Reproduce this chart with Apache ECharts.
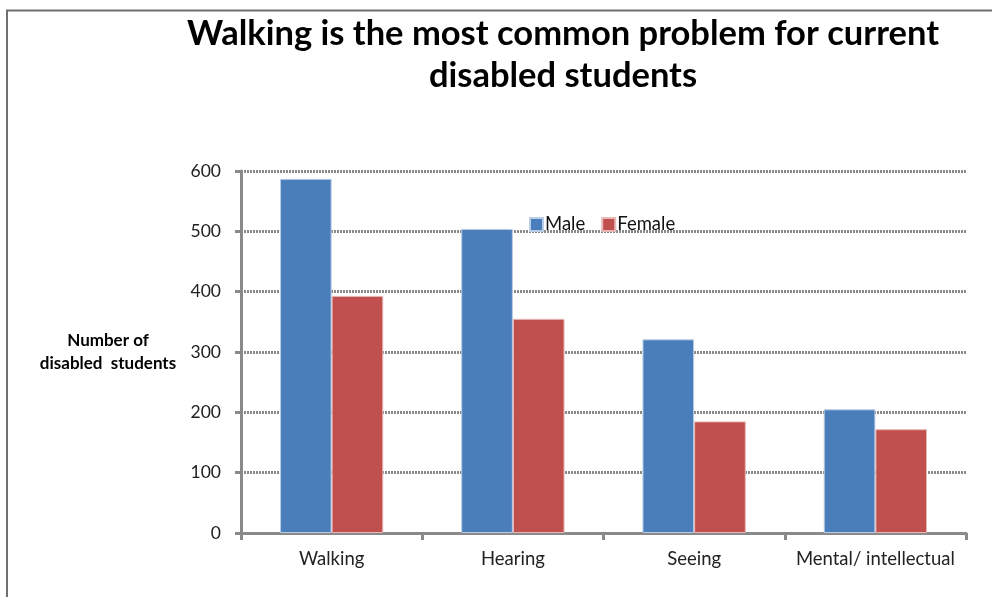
<!DOCTYPE html>
<html><head><meta charset="utf-8">
<script src="https://cdn.jsdelivr.net/npm/echarts@6/dist/echarts.min.js"></script>
<style>html,body{margin:0;padding:0;background:#fff}#c{width:992px;height:597px}</style>
</head><body><div id="c"></div>
<script>
var categories = ['Walking', 'Hearing', 'Seeing', 'Mental/ intellectual'];
var maleValues = [587, 504, 321, 205];
var femaleValues = [393, 355, 185, 172];
var seriesNames = ['Male', 'Female'];
var titleText = 'Walking is the most common problem for current\ndisabled students';
var yAxisName = 'Number of\ndisabled  students';

var chart = echarts.init(document.getElementById('c'));
var font = 'Lato, "Open Sans", sans-serif';
var gridLine = {color: '#8a8a8a', width: 3, type: [2, 1]};
chart.setOption({
  animation: false,
  graphic: [
    {type: 'polyline', shape: {points: [[7, 597], [7, 10.5], [992, 10.5]]}, style: {stroke: '#707070', lineWidth: 2, fill: null}}
  ],
  title: {
    text: titleText, left: 558, top: 8, textAlign: 'center',
    textStyle: {fontFamily: font, fontWeight: 'bold', fontSize: 34.5, color: '#000', lineHeight: 42}
  },
  legend: {
    data: seriesNames, left: 524, top: 210, itemWidth: 13, itemHeight: 13, itemGap: 16,
    icon: 'rect', textStyle: {fontFamily: font, fontSize: 18.5, color: '#111', padding: [0, 0, 0, -3]}
  },
  grid: {left: 241, right: 26, top: 171, bottom: 64, containLabel: false},
  xAxis: {
    type: 'category', data: categories,
    axisLine: {lineStyle: {color: '#8a8a8a', width: 3}},
    axisTick: {show: true, interval: 0, length: 7, lineStyle: {color: '#8a8a8a', width: 3}},
    axisLabel: {interval: 0, fontFamily: font, fontSize: 18.5, color: '#222', margin: 17}
  },
  yAxis: {
    type: 'value', min: 0, max: 600, interval: 100,
    name: yAxisName, nameLocation: 'middle', nameGap: 133, nameRotate: 0,
    nameTextStyle: {fontFamily: font, fontWeight: 'bold', fontSize: 17, color: '#000', lineHeight: 23, align: 'center'},
    axisLine: {show: true, lineStyle: {color: '#8a8a8a', width: 3}},
    axisTick: {show: true, length: 6, lineStyle: {color: '#8a8a8a', width: 3}},
    axisLabel: {fontFamily: font, fontSize: 17.5, color: '#222', margin: 20},
    splitLine: {show: true, lineStyle: gridLine}
  },
  series: [
    {name: seriesNames[0], type: 'bar', data: maleValues, barGap: '0%', barCategoryGap: '43%',
     itemStyle: {color: '#4a7ebb', borderColor: '#b9cde6', borderWidth: 1}},
    {name: seriesNames[1], type: 'bar', data: femaleValues,
     itemStyle: {color: '#c0504d', borderColor: '#e8b8b7', borderWidth: 1}}
  ]
});
</script></body></html>
